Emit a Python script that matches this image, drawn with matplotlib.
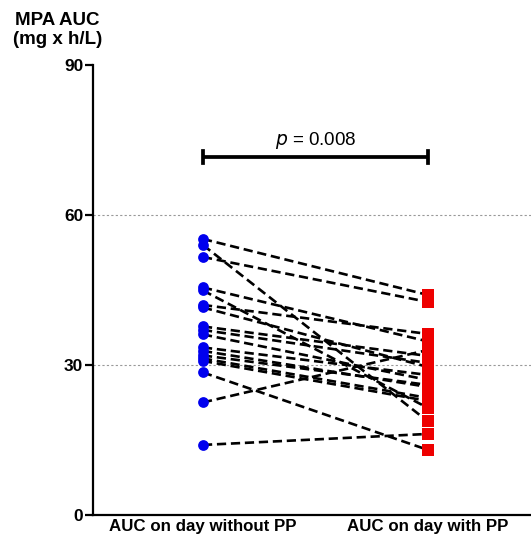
import numpy as np
import matplotlib
matplotlib.use("Agg")
import matplotlib.pyplot as plt

plt.rcParams['font.family'] = ['Liberation Sans', 'DejaVu Sans']

# MPA AUC (mg x h/L) per patient, paired
categories = ["AUC on day without PP", "AUC on day with PP"]
auc_without_pp = [55.2, 54.0, 51.6, 45.5, 44.9, 42.0, 41.5, 37.7, 37.0,
                  36.1, 33.5, 32.8, 31.9, 31.3, 30.8, 28.5, 22.5, 14.0]
auc_with_pp = [44.0, 18.7, 42.6, 34.7, 21.4, 36.2, 29.6, 31.8, 30.4,
               27.0, 28.0, 25.6, 26.0, 23.4, 22.8, 13.0, 33.0, 16.2]
p_text = "= 0.008"
sig_level = 71.6

fig = plt.figure(figsize=(5.31, 5.42), dpi=100)
ax = fig.add_axes([0.175, 0.05, 0.825, 0.83])

for a, b in zip(auc_without_pp, auc_with_pp):
    ax.plot([0, 1], [a, b], color='black', ls=(0, (3.5, 1.8)), lw=1.9, zorder=2)

ax.scatter(np.zeros(len(auc_without_pp)), auc_without_pp, s=60, marker='o',
           color='#0000ee', zorder=3, linewidths=0)
ax.scatter(np.ones(len(auc_with_pp)), auc_with_pp, s=80, marker='s',
           color='#ee0000', zorder=3, linewidths=0)

# significance bar
ax.plot([0, 1], [sig_level, sig_level], color='black', lw=2.7, solid_capstyle='butt')
ax.plot([0, 0], [sig_level - 1.2, sig_level + 1.2], color='black', lw=2.7)
ax.plot([1, 1], [sig_level - 1.2, sig_level + 1.2], color='black', lw=2.7)
ax.text(0.5, sig_level + 3.4, r"$\it{p}$ " + p_text, ha='center', va='center',
        fontsize=13.5)

for yg in [30, 60]:
    ax.axhline(yg, color='#999999', ls=(0, (2, 2)), lw=0.8, zorder=1)

ax.set_xlim(-0.489, 1.458)
ax.set_ylim(0, 90)
ax.set_yticks([0, 30, 60, 90])
ax.set_xticks([0, 1])
ax.set_xticklabels(categories, fontsize=12.2, fontweight='bold')
for lbl in ax.get_yticklabels():
    lbl.set_fontweight('bold')
    lbl.set_fontsize(12.5)
ax.tick_params(axis='y', length=6, width=1.6, pad=1)
ax.tick_params(axis='x', length=0, pad=3)
for side in ['top', 'right']:
    ax.spines[side].set_visible(False)
for side in ['left', 'bottom']:
    ax.spines[side].set_linewidth(1.6)

fig.text(0.108, 0.945, "MPA AUC\n(mg x h/L)", ha='center', va='center',
         fontsize=13.5, fontweight='bold', linespacing=1.2)

fig.savefig("out.png", dpi=100)
